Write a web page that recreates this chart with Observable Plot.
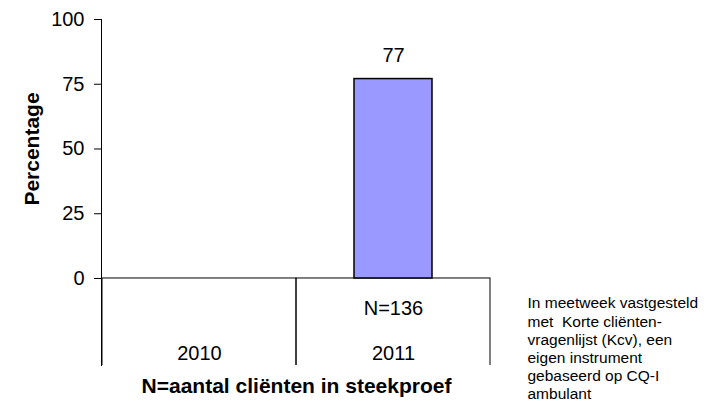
<!DOCTYPE html>
<html>
<head>
<meta charset="utf-8">
<script src="https://cdn.jsdelivr.net/npm/d3@7"></script>
<script src="https://cdn.jsdelivr.net/npm/@observablehq/plot@0.6"></script>
<style>
  html, body { margin: 0; padding: 0; background: #fff; }
</style>
</head>
<body>
<div id="chart"></div>
<script>
// ---- data ----
const categories = ["2010", "2011"];
const percentages = [null, 77];
const sampleSizes = ["", "N=136"];
const yTicks = [0, 25, 50, 75, 100];
const yTitle = "Percentage";
const xTitle = "N=aantal cliënten in steekproef";
const note = "In meetweek vastgesteld\nmet  Korte cliënten-\nvragenlijst (Kcv), een\neigen instrument\ngebaseerd op CQ-I\nambulant";

const rows = categories.map((c, i) => ({category: c, value: percentages[i], n: sampleSizes[i]}));
const bars = rows.filter(d => d.value != null);

// layout constants (table area below the zero line lives in the y scale's negative part)
const tableBottom = -33.6;
const font = "Liberation Sans, Arial, Helvetica, sans-serif";

const chart = Plot.plot({
  width: 710,
  height: 410,
  marginLeft: 101,
  marginRight: 219,
  marginTop: 19,
  marginBottom: 45,
  style: {fontFamily: font, fontSize: "20px", color: "#000", background: "#fff"},
  x: {type: "band", domain: categories, padding: 0, insetRight: 1, axis: null},
  y: {domain: [tableBottom, 100], axis: null},
  marks: [
    // table cells below the axis
    Plot.barY(categories, {x: d => d, y1: tableBottom - 10, y2: 0, fill: "none", stroke: "#000", strokeWidth: 1, clip: true}),
    // y axis line
    Plot.frame({anchor: "left", stroke: "#000", strokeWidth: 1}),
    Plot.axisY({ticks: yTicks, tickSize: 7, tickPadding: 10, fontSize: 20, label: null, stroke: "#000", strokeOpacity: 1}),
    // bars
    Plot.barY(bars, {x: "category", y: "value", fill: "#9999ff", stroke: "#000", strokeWidth: 1.5, insetLeft: 58, insetRight: 58}),
    // value labels
    Plot.text(bars, {x: "category", y: "value", text: d => String(d.value), dy: -23, lineAnchor: "middle", fontSize: 20}),
    // N row
    Plot.text(rows, {x: "category", y: () => -11.6, text: "n", lineAnchor: "middle", fontSize: 20}),
    // category labels
    Plot.text(rows, {x: "category", y: () => -29, text: "category", lineAnchor: "middle", fontSize: 20}),
    // y title
    Plot.text([yTitle], {frameAnchor: "left", y: () => 50, text: d => d, rotate: -90, dx: -69, textAnchor: "middle", fontWeight: "bold", fontSize: 21, lineAnchor: "middle"}),
    // x title
    Plot.text([xTitle], {frameAnchor: "bottom", text: d => d, dy: 21, fontWeight: "bold", fontSize: 21, lineAnchor: "middle"}),
    // note
    Plot.text([note], {frameAnchor: "top-left", text: d => d, dx: 426, dy: 276, textAnchor: "start", lineAnchor: "top", lineHeight: 1.17, fontSize: 15.5})
  ]
});
document.getElementById("chart").appendChild(chart);
</script>
</body>
</html>
